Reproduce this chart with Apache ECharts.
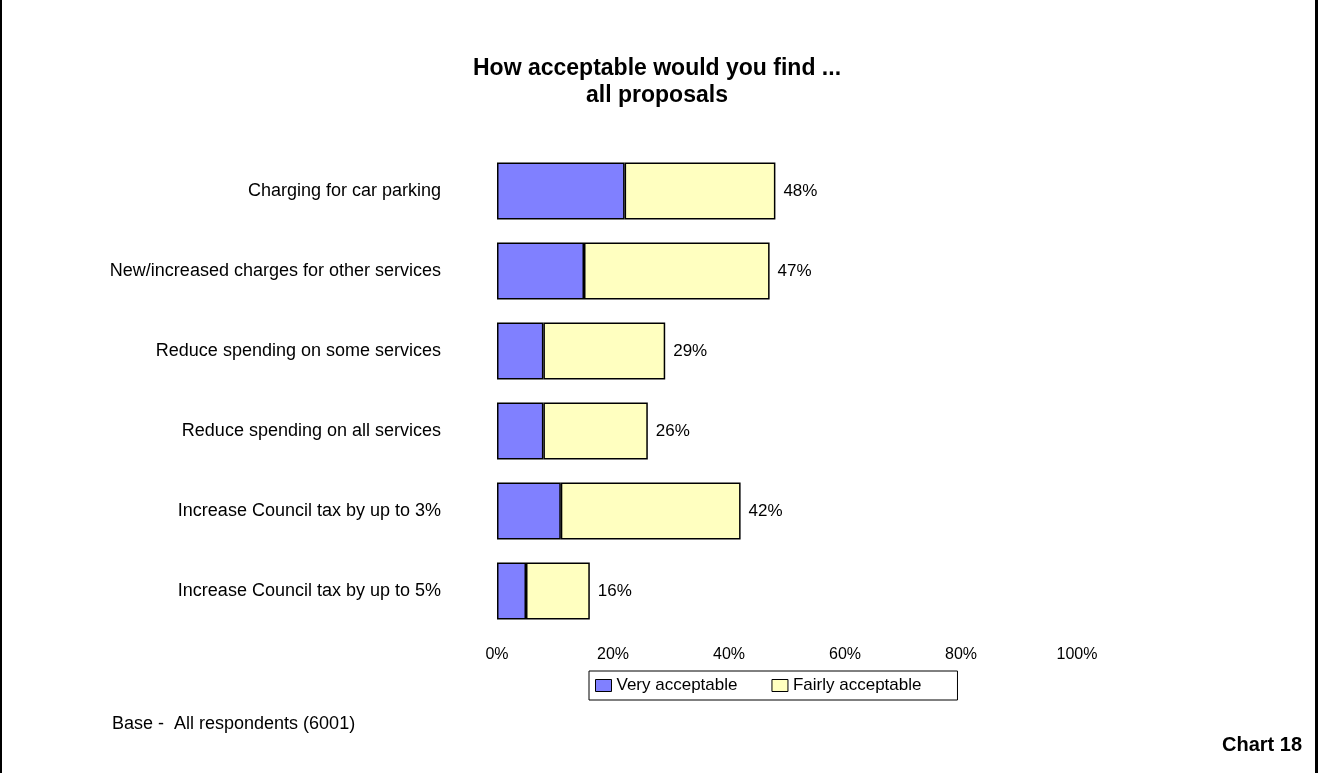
<!DOCTYPE html>
<html>
<head>
<meta charset="utf-8">
<title>How acceptable would you find ... all proposals</title>
<script src="https://cdn.jsdelivr.net/npm/echarts@6/dist/echarts.min.js"></script>
<style>
    html, body { margin: 0; padding: 0; background: #fff; }
    #chart18 { width: 1318px; height: 773px; }
</style>
</head>
<body>
<div id="chart18"></div>
<script>
// proposals, top to bottom
const proposals = [
    'Charging for car parking',
    'New/increased charges for other services',
    'Reduce spending on some services',
    'Reduce spending on all services',
    'Increase Council tax by up to 3%',
    'Increase Council tax by up to 5%'
];
const veryAcceptable = [22, 15, 8, 8, 11, 5];
const fairlyAcceptable = [26, 32, 21, 18, 31, 11];
const totalLabels = ['48%', '47%', '29%', '26%', '42%', '16%'];
const xTicks = [0, 20, 40, 60, 80, 100];

const fontName = '"Liberation Sans", Arial, sans-serif';
const chartDom = document.getElementById('chart18');
const chart = echarts.init(chartDom);

const option = {
    backgroundColor: '#fff',
    animation: false,
    textStyle: { fontFamily: fontName, color: '#000' },
    title: [
        {
            text: 'How acceptable would you find ...\nall proposals',
            left: 652,
            top: 50,
            textAlign: 'center',
            textStyle: { fontSize: 23, fontWeight: 'bold', lineHeight: 27, color: '#000', fontFamily: fontName }
        },
        {
            text: 'Base -  All respondents (6001)',
            left: 107,
            top: 710,
            textStyle: { fontSize: 18, fontWeight: 'normal', color: '#000', fontFamily: fontName }
        },
        {
            text: 'Chart 18',
            right: 11,
            top: 730,
            textStyle: { fontSize: 20, fontWeight: 'bold', color: '#000', fontFamily: fontName }
        }
    ],
    // frame of the page
    graphic: [
        { type: 'rect', shape: { x: 0, y: 0, width: 2, height: 773 }, style: { fill: '#000' } },
        { type: 'rect', shape: { x: 1315, y: 0, width: 3, height: 773 }, style: { fill: '#000' } }
    ],
    legend: {
        left: 589,
        top: 671,
        padding: [6, 36, 6, 6],
        itemGap: 34,
        itemWidth: 16,
        itemHeight: 12,
        borderColor: '#000',
        borderWidth: 1,
        icon: 'rect',
        textStyle: { fontSize: 17, color: '#000', fontFamily: fontName },
        itemStyle: { borderColor: '#000', borderWidth: 1 },
        data: ['Very acceptable', 'Fairly acceptable']
    },
    grid: {
        left: 497,
        width: 580,
        top: 151,
        height: 480,
        containLabel: false
    },
    xAxis: {
        type: 'value',
        min: xTicks[0],
        max: xTicks[xTicks.length - 1],
        interval: 20,
        axisLine: { show: false },
        axisTick: { show: false },
        splitLine: { show: false },
        axisLabel: {
            margin: 16,
            fontSize: 16,
            color: '#000',
            fontFamily: fontName,
            formatter: '{value}%'
        }
    },
    yAxis: {
        type: 'category',
        inverse: true,
        data: proposals,
        axisLine: { show: false },
        axisTick: { show: false },
        axisLabel: {
            margin: 56,
            fontSize: 18,
            color: '#000',
            fontFamily: fontName
        }
    },
    series: [
        {
            name: 'Very acceptable',
            type: 'bar',
            stack: 'all',
            barWidth: 57,
            data: veryAcceptable,
            itemStyle: { color: '#8080FF', borderColor: '#000', borderWidth: 1.5 }
        },
        {
            name: 'Fairly acceptable',
            type: 'bar',
            stack: 'all',
            barWidth: 57,
            data: fairlyAcceptable,
            itemStyle: { color: '#FFFFC0', borderColor: '#000', borderWidth: 1.5 },
            label: {
                show: true,
                position: 'right',
                distance: 8,
                fontSize: 17,
                color: '#000',
                fontFamily: fontName,
                formatter: (p) => totalLabels[p.dataIndex]
            }
        }
    ]
};

chart.setOption(option);
window.addEventListener('resize', () => {
    chart.resize();
});
</script>
</body>
</html>
